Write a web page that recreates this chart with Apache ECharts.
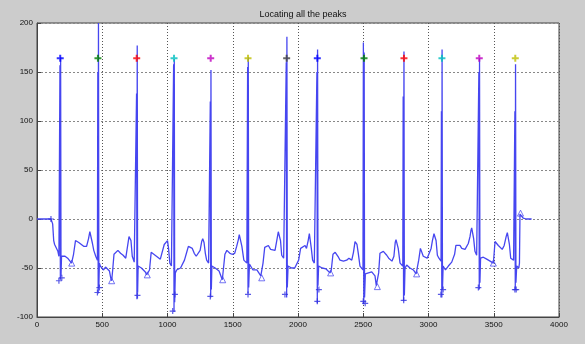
<!DOCTYPE html>
<html>
<head>
<meta charset="utf-8">
<script src="https://cdn.jsdelivr.net/npm/echarts@6/dist/echarts.min.js"></script>
<style>
html,body{margin:0;padding:0;background:#cccccc;}
#chart{width:585px;height:344px;}
</style>
</head>
<body>
<div id="chart"></div>
<script>
// ---- data ----
const titleText = 'Locating all the peaks';
const xTicks = [0, 500, 1000, 1500, 2000, 2500, 3000, 3500, 4000];
const yTicks = [-100, -50, 0, 50, 100, 150, 200];

const ecgX = [0,107,120,128,135,150,160,168,173,176,179,181,184,188,
200,215,235,250,265,280,295,305,320,340,360,380,395,405,415,425,435,450,460,
463,466,469,471,474,478,
485,495,510,525,540,555,565,572,580,590,600,620,640,660,680,695,705,712,720,730,745,755,
760,763,766,768,771,775,
785,800,815,830,840,850,862,875,890,905,925,945,960,975,990,1000,1008,1018,1030,1040,
1044,1047,1050,1052,1055,1060,
1070,1085,1100,1115,1130,1145,1160,1175,1190,1205,1220,1235,1250,1262,1270,1280,1290,1300,1315,
1325,1328,1331,1333,1336,1340,
1350,1365,1380,1395,1410,1420,1428,1440,1455,1466,1478,1495,1515,1530,1543,1550,1560,1570,1585,1600,1608,
1611,1614,1617,1619,1622,1628,
1640,1655,1670,1685,1700,1715,1722,1732,1745,1760,1773,1790,1805,1824,1840,1849,1858,1866,1875,1890,1903,
1907,1910,1913,1915,1918,1924,
1935,1950,1962,1975,1990,2005,2020,2035,2054,2065,2078,2087,2094,2102,2112,2125,2138,
2142,2145,2148,2150,2153,2158,
2169,2185,2200,2215,2230,2245,2255,2268,2285,2297,2310,2322,2335,2348,2360,2373,2390,2412,2425,2437,2445,2452,2462,2475,2490,
2498,2501,2504,2507,2510,2516,
2526,2540,2552,2565,2577,2590,2600,2610,2618,2628,2640,2654,2668,2680,2695,2705,2720,2735,2745,2751,2758,2768,2782,2795,
2803,2806,2809,2812,2815,2820,
2833,2845,2858,2870,2884,2895,2905,2915,2925,2938,2948,2960,2975,2990,3005,3020,3030,3042,3050,3058,3068,3080,3092,
3096,3099,3102,3104,3107,3112,
3120,3130,3140,3152,3165,3178,3190,3200,3210,3222,3241,3255,3267,3280,3292,3305,3318,3325,3331,3338,3346,3356,3369,3378,
3383,3386,3389,3391,3394,3399,
3407,3420,3433,3446,3459,3472,3484,3497,3503,3510,3522,3535,3550,3565,3580,3595,3604,3612,3620,3630,3642,3652,
3659,3662,3665,3667,3670,3676,
3684,3692,3697,3701,3710,3725,3750,3790];

const ecgY = [0,0,-5,-22,-26,-28,-33,-38,-38,157,-62,165,-58,-38,
-40,-38,-40,-42,-45,-36,-22,-20,-24,-26,-28,-28,-20,-13,-14,-25,-32,-38,-40,
-42,150,-76,200,-70,-45,
-48,-50,-52,-49,-50,-53,-60,-63,-52,-36,-34,-32,-35,-37,-40,-38,-18,-16,-22,-38,-44,-45,
-45,128,-82,177,-75,-48,
-46,-50,-52,-54,-57,-58,-52,-34,-35,-37,-39,-41,-40,-26,-24,-22,-30,-45,-48,-48,
-50,158,-95,163,-85,-55,
-52,-54,-50,-48,-42,-35,-28,-28,-30,-35,-38,-40,-32,-23,-20,-24,-35,-42,-45,
-45,120,-80,152,-72,-48,
-48,-50,-52,-53,-55,-62,-60,-36,-32,-31,-35,-36,-35,-28,-21,-16,-14,-28,-42,-44,-45,
-45,155,-76,165,-70,-46,
-48,-52,-51,-52,-54,-58,-60,-45,-29,-27,-27,-31,-32,-32,-20,-13,-12,-22,-37,-40,-42,
-42,160,-80,186,-70,-48,
-47,-50,-52,-50,-50,-42,-30,-28,-27,-30,-22,-15,-16,-30,-42,-45,-46,
-46,150,-86,173,-68,-48,
-49,-50,-50,-51,-53,-55,-52,-36,-34,-35,-39,-42,-41,-43,-41,-42,-40,-42,-34,-23,-22,-26,-35,-48,-50,
-52,180,-87,170,-80,-56,
-56,-55,-55,-54,-55,-58,-68,-69,-55,-35,-34,-33,-35,-37,-40,-42,-43,-38,-24,-21,-22,-30,-45,-47,
-48,125,-84,171,-78,-50,
-47,-49,-50,-51,-52,-53,-56,-55,-42,-30,-28,-38,-39,-40,-38,-30,-22,-15,-15,-22,-37,-40,-42,
-43,110,-80,173,-72,-48,
-50,-52,-52,-48,-46,-44,-43,-36,-27,-25,-27,-30,-32,-31,-32,-25,-18,-12,-9,-11,-20,-33,-37,-38,
-39,150,-72,164,-65,-40,
-38,-39,-40,-41,-42,-43,-43,-45,-35,-23,-25,-27,-29,-31,-27,-18,-14,-16,-26,-40,-41,-42,
-43,110,-72,158,-65,-48,
-50,-50,-45,5,3,1,0,0];

// detected R peaks (coloured + markers)
const peakX = [178,467,764,1050,1331,1617,1913,2148,2506,2812,3103,3389,3665];
const peakY = [164,164,164,164,164,164,164,164,164,164,164,164,164];

// other detected points (blue + markers near the S waves)
const sX = [107,168,190,463,478,770,1040,1057,1328,1617,1900,2148,2160,2500,2515,2810,3095,3112,3382,3662,3672];
const sY = [0,-63,-60,-75,-70,-78,-94,-77,-79,-77,-77,-84,-72,-84,-86,-83,-77,-72,-70,-72,-72];

// blue triangle markers at the troughs
const tX = [266,572,845,1423,1722,2250,2608,2909,3497,3705];
const tY = [-45,-63,-57,-62,-60,-55,-69,-56,-45,6];

// ---- style ----
const peakColors = ['#0000ff','#008000','#ff0000','#00bfbf','#bf00bf','#bfbf00','#404040'];
const plusPath = 'path://M0,5L10,5M5,0L5,10';

const ecg = ecgX.map((x, i) => [x, ecgY[i]]);
const peaks = peakX.map((x, i) => ({
  value: [x, peakY[i]],
  itemStyle: { borderColor: peakColors[i % peakColors.length] }
}));
const sPts = sX.map((x, i) => [x, sY[i]]);
const tPts = tX.map((x, i) => [x, tY[i]]);

const chart = echarts.init(document.getElementById('chart'), null, { renderer: 'canvas' });
const font = 'Liberation Sans, Arial, sans-serif';

chart.setOption({
  backgroundColor: '#cccccc',
  animation: false,
  title: {
    text: titleText,
    left: 298,
    top: 5,
    textAlign: 'center',
    textStyle: { fontFamily: font, fontSize: 9, fontWeight: 'normal', color: '#111' }
  },
  grid: {
    left: 37, top: 23, width: 522, height: 294,
    show: true, backgroundColor: '#ffffff', borderColor: '#444', borderWidth: 1,
    containLabel: false
  },
  xAxis: {
    type: 'value', min: xTicks[0], max: xTicks[xTicks.length - 1], interval: 500,
    axisLine: { show: true, onZero: false, lineStyle: { color: '#444' } },
    axisTick: { show: true, inside: true, length: 4, lineStyle: { color: '#444' } },
    axisLabel: { fontFamily: font, fontSize: 8, color: '#111', margin: 4, formatter: v => String(v) },
    splitLine: { show: true, lineStyle: { color: '#555', type: [1, 2], width: 1 } }
  },
  yAxis: {
    type: 'value', min: yTicks[0], max: yTicks[yTicks.length - 1], interval: 50,
    axisLine: { show: true, onZero: false, lineStyle: { color: '#444' } },
    axisTick: { show: true, inside: true, length: 4, lineStyle: { color: '#444' } },
    axisLabel: { fontFamily: font, fontSize: 8, color: '#111', margin: 4, formatter: v => String(v) },
    splitLine: { show: true, lineStyle: { color: '#888', type: [2, 2], width: 1 } }
  },
  series: [
    {
      type: 'line', data: ecg, symbol: 'none', z: 2,
      lineStyle: { color: '#4646f0', width: 1.3 }
    },
    {
      type: 'scatter', data: sPts, symbol: plusPath, symbolSize: 6, z: 3,
      itemStyle: { color: 'rgba(0,0,0,0)', borderColor: '#3030e0', borderWidth: 1.2 }
    },
    {
      type: 'scatter', data: tPts, symbol: 'triangle', symbolSize: 6, z: 3,
      itemStyle: { color: 'rgba(0,0,0,0)', borderColor: '#5050f0', borderWidth: 1 }
    },
    {
      type: 'scatter', data: peaks, symbol: plusPath, symbolSize: 7, z: 4,
      itemStyle: { color: 'rgba(0,0,0,0)', borderWidth: 2 }
    }
  ]
});
</script>
</body>
</html>
